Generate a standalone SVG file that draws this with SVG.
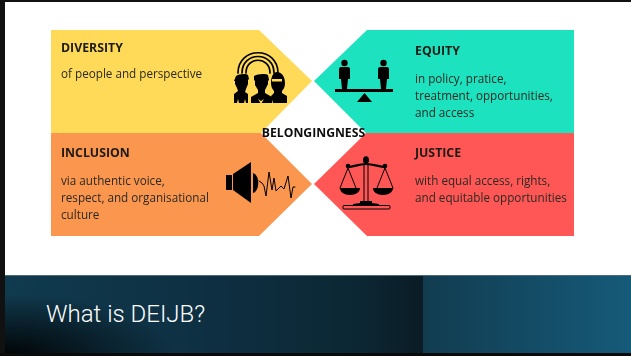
<svg xmlns="http://www.w3.org/2000/svg" width="631" height="356" viewBox="0 0 631 356">
<style>
.h{font:700 12.300px "Open Sans",sans-serif;fill:#1c1a14}
.t{font:400 11.700px "Open Sans",sans-serif;fill:#2b2a22}
.k{fill:#000}
.l{fill:none;stroke:#000;stroke-linecap:round;stroke-linejoin:round}
</style>
<defs>
<linearGradient id="a" x1="0" y1="0" x2="1" y2="0"><stop offset="0" stop-color="#103a4e"/><stop offset=".5" stop-color="#0e2f42"/><stop offset=".85" stop-color="#0c2733"/><stop offset="1" stop-color="#0a1c25"/></linearGradient>
<radialGradient id="c" gradientUnits="userSpaceOnUse" cx="0" cy="0" r="1" gradientTransform="translate(5 356) scale(170 62)"><stop offset="0" stop-color="#000" stop-opacity=".95"/><stop offset="1" stop-color="#000" stop-opacity="0"/></radialGradient>
<linearGradient id="b" x1="0" y1="0" x2="1" y2="0"><stop offset="0" stop-color="#123c50"/><stop offset="1" stop-color="#155a79"/></linearGradient>
<filter id="s" x="-5%" y="-5%" width="110%" height="110%"><feGaussianBlur stdDeviation=".35"/></filter>
</defs>
<rect width="631" height="356" fill="#fff"/>
<rect width="631" height="2" fill="#111"/>
<rect width="5" height="356" fill="#111"/>
<g filter="url(#s)">
<g id="diversity">
<polygon points="51,30 259,30 312,81 261,133 51,133" fill="#ffd958"/>
<text class="h" x="61" y="52">DIVERSITY</text>
<text class="t" x="61" y="78">of people and perspective</text>
<g>
<path class="l" stroke-width="1.700" d="M238 73C238 46 278 46 278 73M242 73C242 51 274 51 274 73M246 73C246 56 270 56 270 73"/>
<path class="k" d="M236 76c2-2 10-3 12-1l1 4-1 1v4l-2 5-1 3 3 2v9h-2l-1-4-1 4h-5l-1-4-1 4h-3v-9l4-3-1-3-2-4v-3h-1z"/>
<path class="k" d="M254 76c3-2 11-3 14-1l1 5-1 1v3l-3 6v3l7 4v6h-21v-6l7-4v-3l-3-5v-4l-1-1z"/>
<path fill="#ffd958" d="M258 99l3 2 3-2-3 5z"/>
<path class="k" d="M277 72c5 0 8 5 8 11 0 3-1 6-3 8v2l5 3v7h-14l-2-7 3-3v-2c-2-2-3-5-3-8 0-6 2-11 6-11z"/>
<rect x="272" y="79" width="10" height="2.500" fill="#ffd958"/>
</g>
</g>
<g id="equity">
<polygon points="314,81 367,30 574,30 574,133 366,133" fill="#1de2bf"/>
<text class="h" x="415" y="55">EQUITY</text>
<text class="t" x="415" y="83">in policy,  pratice,</text>
<text class="t" x="415" y="100">treatment, opportunities,</text>
<text class="t" x="415" y="117">and access</text>
<g>
<circle class="k" cx="344.500" cy="63" r="3.200"/>
<path class="k" d="M341 67h7q2 0 2 2v10h-2l-1 10h-5l-1-10h-2V69q0-2 2-2z"/>
<circle class="k" cx="383.500" cy="63" r="3.200"/>
<path class="k" d="M380 67h7q2 0 2 2v10h-2l-1 10h-5l-1-10h-2V69q0-2 2-2z"/>
<rect x="335" y="89" width="58" height="3" class="k"/>
<polygon class="k" points="364.500,93 372,102 357,102"/>
</g>
</g>
<g id="inclusion">
<polygon points="51,133 261,133 312,184 259,236 51,236" fill="#fb9650"/>
<text class="h" x="61" y="157">INCLUSION</text>
<text class="t" x="61" y="185">via authentic voice,</text>
<text class="t" x="61" y="202">respect, and organisational</text>
<text class="t" x="61" y="219">culture</text>
<g>
<rect class="k" x="226" y="175" width="6" height="15"/>
<polygon class="k" points="233,174 251,162 251,203 233,190"/>
<path class="k" d="M253 173c7 2 7 18 0 20z"/>
<path class="l" stroke-width="1" d="M259 181l3 2 2 3 2 10 3-24 3 18 2-12 2 13 3-3 2-2 3 3 4-13 3 22 2-11h2"/>
</g>
</g>
<g id="justice">
<polygon points="314,184 366,133 574,133 574,236 367,236" fill="#ff5757"/>
<text class="h" x="415" y="157">JUSTICE</text>
<text class="t" x="415" y="185">with equal access, rights,</text>
<text class="t" x="415" y="202">and equitable opportunities</text>
<g>
<ellipse class="k" cx="366" cy="160" rx="3" ry="3.800"/>
<path class="l" stroke-width="2.200" d="M348 167c6 0 10-3 18-3s13 3 19 3"/>
<circle class="k" cx="348" cy="166" r="2.300"/><circle class="k" cx="385" cy="166" r="2.300"/>
<path class="l" stroke-width="1" d="M348 168l-8 20M348 168l8 20M385 168l-8 20M385 168l8 20M364 165v38h4V165"/>
<path class="k" d="M340 188h20c0 4-4 7-10 7s-10-3-10-7zM373 188h20c0 4-4 7-10 7s-10-3-10-7z"/>
<path class="k" d="M353 204l7-1v-2h12v2l7 1v2h-26z"/>
<rect x="343" y="205.500" width="47" height="3.500" rx="1" fill="none" stroke="#000" stroke-width="1"/>
</g>
</g>
<text id="belonging" x="313.500" y="137" text-anchor="middle" style="font:700 12.200px 'Open Sans',sans-serif" fill="#111">BELONGINGNESS</text>
</g>
<g id="footer">
<rect x="5" y="275" width="418" height="78" fill="url(#a)"/>
<rect x="5" y="275" width="418" height="78" fill="url(#c)"/>
<rect x="423" y="275" width="208" height="78" fill="url(#b)"/>
<rect x="0" y="353" width="631" height="3" fill="#0a0a0a"/>
<rect x="5" y="275" width="626" height="1" fill="#4d6a75"/>
<text x="46" y="322" style="font:300 24px Roboto,sans-serif" fill="#fff">What is DEIJB?</text>
</g>
</svg>
